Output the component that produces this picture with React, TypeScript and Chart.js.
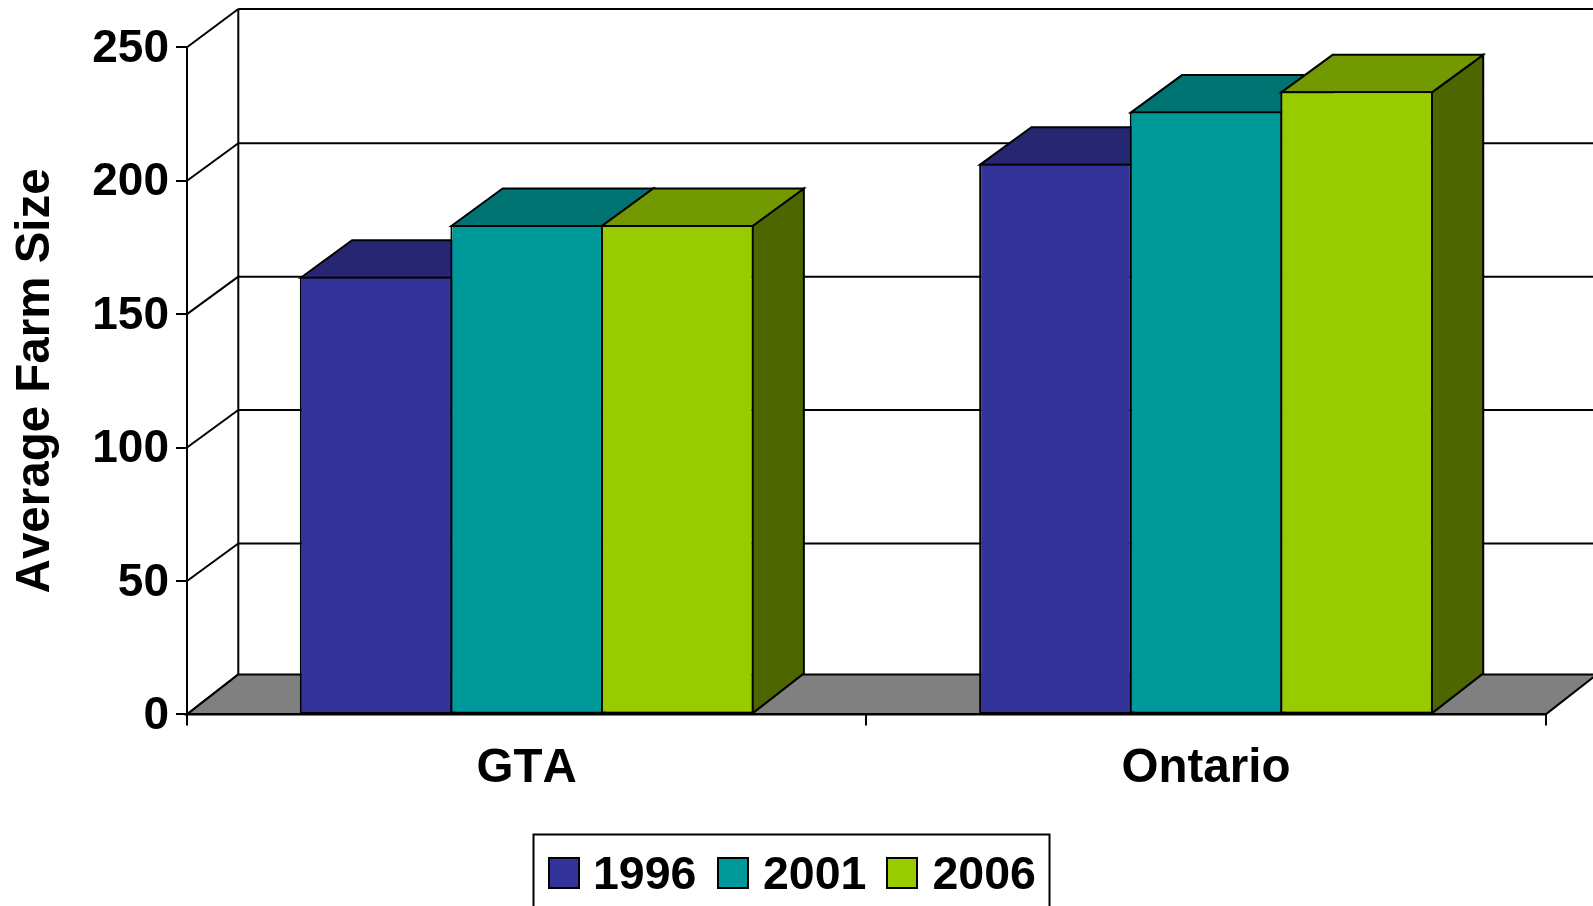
import React, { useEffect, useRef } from "react";
import { Chart, registerables } from "chart.js";

Chart.register(...registerables);

const categories = ["GTA", "Ontario"];
const seriesNames = ["1996", "2001", "2006"];
const values1996 = [164, 206.4];
const values2001 = [183.4, 225.9];
const values2006 = [183.4, 233.5];
const yTicks = [0, 50, 100, 150, 200, 250];
const axisTitle = "Average Farm Size";

const frontColors = ["#333399", "#009999", "#99CC00"];
const topColors = ["#262673", "#007373", "#739900"];
const sideColors = ["#1A1A4D", "#004D4D", "#4D6600"];
const FONT = '"Liberation Sans", Arial, sans-serif';
const DX = 51.3;
const DY = 37.5;
const FLOOR_DY = 40;
const TOP_DY = 38.3;

function poly(ctx: CanvasRenderingContext2D, pts: number[][], fill: string | null, lw = 2) {
  ctx.beginPath();
  pts.forEach((p, i) => (i ? ctx.lineTo(p[0], p[1]) : ctx.moveTo(p[0], p[1])));
  ctx.closePath();
  if (fill) {
    ctx.fillStyle = fill;
    ctx.fill();
  }
  ctx.lineWidth = lw;
  ctx.strokeStyle = "#000";
  ctx.lineJoin = "miter";
  ctx.stroke();
}

function seg(ctx: CanvasRenderingContext2D, x1: number, y1: number, x2: number, y2: number, lw: number) {
  ctx.beginPath();
  ctx.moveTo(x1, y1);
  ctx.lineTo(x2, y2);
  ctx.lineWidth = lw;
  ctx.strokeStyle = "#000";
  ctx.stroke();
}

const box3d = {
  id: "box3d",
  beforeDraw(chart: any) {
    chart.ctx.fontKerning = "none";
  },
  beforeDatasetsDraw(chart: any) {
    const { ctx, chartArea, scales } = chart;
    const { left, right } = chartArea;
    const y0 = scales.y.getPixelForValue(0);
    const yTop = scales.y.getPixelForValue(250);
    ctx.save();
    // back wall and side wall lines
    yTicks.forEach((v) => {
      const y = scales.y.getPixelForValue(v);
      const d = v === 0 ? FLOOR_DY : v === 250 ? TOP_DY : DY;
      if (v > 0) {
        seg(ctx, left + DX, y - d, right + DX, y - d, 2);
      }
      seg(ctx, left, y, left + DX, y - d, 2);
    });
    seg(ctx, left + DX, yTop - TOP_DY, left + DX, y0 - FLOOR_DY, 2);
    // floor
    poly(ctx, [[left, y0], [left + DX, y0 - FLOOR_DY], [right + DX, y0 - FLOOR_DY], [right, y0]], "#808080");
    // bars drawn from the first series to the last so that each front covers the previous box
    chart.data.datasets.forEach((_: any, i: number) => {
      const meta = chart.getDatasetMeta(i);
      meta.data.forEach((bar: any) => {
        const { x, y, base, width } = bar.getProps(["x", "y", "base", "width"]);
        const l = x - width / 2 + 1;
        const r = x + width / 2 - 1;
        const t = y + 1;
        poly(ctx, [[r, t], [r + DX, t - DY], [r + DX, base - FLOOR_DY], [r, base]], sideColors[i]);
        poly(ctx, [[l, t], [l + DX, t - DY], [r + DX, t - DY], [r, t]], topColors[i]);
      });
      meta.controller.draw();
    });
    ctx.restore();
    drawLegend(chart);
    return false;
  },
};

function drawLegend(chart: any) {
  const ctx = chart.ctx as CanvasRenderingContext2D;
  ctx.save();
  ctx.lineWidth = 2;
  ctx.strokeStyle = "#000";
  ctx.strokeRect(533.5, 834.5, 516, 90);
  const swatchX = [549, 718, 887];
  const textX = [593, 763, 932.5];
  ctx.font = `bold 46.5px ${FONT}`;
  ctx.textBaseline = "middle";
  ctx.textAlign = "left";
  seriesNames.forEach((name, i) => {
    ctx.fillStyle = frontColors[i];
    ctx.fillRect(swatchX[i], 858, 30, 30);
    ctx.strokeRect(swatchX[i], 858, 30, 30);
    ctx.fillStyle = "#000";
    ctx.fillText(name, textX[i], 876);
  });
  ctx.restore();
}

export default function App() {
  const ref = useRef<HTMLCanvasElement>(null);
  useEffect(() => {
    const allValues = [values1996, values2001, values2006];
    const chart = new Chart(ref.current!, {
      type: "bar",
      data: {
        labels: categories,
        datasets: seriesNames.map((label, i) => ({
          label,
          data: allValues[i],
          backgroundColor: frontColors[i],
          borderColor: "#000",
          borderWidth: 2,
          borderSkipped: false,
          categoryPercentage: 0.665,
          barPercentage: 1.0134,
        })),
      },
      options: {
        animation: false,
        responsive: false,
        layout: { padding: { left: 0, top: 47.3, right: 47.3, bottom: 0 } },
        plugins: { legend: { display: false }, tooltip: { enabled: false }, title: { display: false } },
        scales: {
          x: {
            afterFit: (s: any) => {
              s.height = 191.6;
            },
            grid: { drawOnChartArea: false, drawTicks: true, tickLength: 11, color: "#000", lineWidth: 2 },
            border: { display: true, color: "#000", width: 2, z: 1 },
            ticks: {
              color: "#000",
              padding: 15.5,
              maxRotation: 0,
              font: { family: FONT, size: 47.5, weight: "bold" },
            },
          },
          y: {
            min: 0,
            max: 250,
            afterFit: (s: any) => {
              s.width = 187;
            },
            afterBuildTicks: (s: any) => {
              s.ticks = yTicks.map((value) => ({ value }));
            },
            grid: { drawOnChartArea: false, drawTicks: true, tickLength: 11, color: "#000", lineWidth: 2 },
            border: { display: true, color: "#000", width: 2 },
            ticks: {
              color: "#000",
              padding: 7,
              labelOffset: 2,
              font: { family: FONT, size: 46, weight: "bold" },
            },
            title: {
              display: true,
              text: axisTitle,
              color: "#000",
              padding: { top: 7, bottom: 0 },
              font: { family: FONT, size: 47.5, weight: "bold" },
            },
          },
        },
      },
      plugins: [box3d],
    } as any);
    return () => chart.destroy();
  }, []);
  return (
    <div style={{ position: "absolute", left: 0, top: 0, width: 1593, height: 906, overflow: "hidden", background: "#fff" }}>
      <canvas ref={ref} width={1593} height={906} style={{ display: "block" }} />
    </div>
  );
}
